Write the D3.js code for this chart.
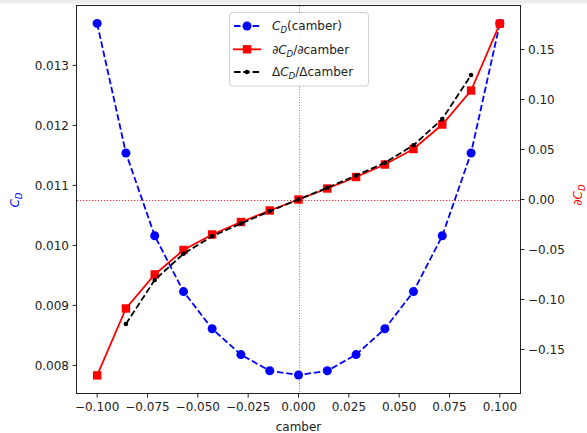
<!DOCTYPE html>
<html>
<head>
<meta charset="utf-8">
<script src="https://d3js.org/d3.v7.min.js"></script>
<style>
  body { margin: 0; padding: 0; background: #fff; }
  svg { display: block; font-family: "DejaVu Sans", sans-serif; }
</style>
</head>
<body>
<svg id="chart" width="587" height="433"></svg>
<script>
// camber stations
var camber = [-0.1, -0.0857, -0.0714, -0.0571, -0.0429, -0.0286, -0.0143, 0,
              0.0143, 0.0286, 0.0429, 0.0571, 0.0714, 0.0857, 0.1];
// drag coefficient
var cd = [0.01370, 0.01154, 0.01016, 0.00923, 0.00861, 0.00818, 0.00791, 0.00784,
          0.00791, 0.00818, 0.00861, 0.00923, 0.01016, 0.01154, 0.01370];
// analytic derivative
var dcd = [-0.176, -0.109, -0.075, -0.0505, -0.035, -0.0225, -0.011, 0,
           0.011, 0.0225, 0.035, 0.0505, 0.075, 0.109, 0.176];
// finite difference (interior stations only)
var camberFd = [-0.0857, -0.0714, -0.0571, -0.0429, -0.0286, -0.0143, 0,
                0.0143, 0.0286, 0.0429, 0.0571, 0.0714, 0.0857];
var fd = [-0.1245, -0.0805, -0.0543, -0.0368, -0.0240, -0.0118, 0,
          0.0118, 0.0240, 0.0368, 0.0543, 0.0805, 0.1245];

var xTicks = [-0.1, -0.075, -0.05, -0.025, 0, 0.025, 0.05, 0.075, 0.1];
var yLeftTicks = [0.008, 0.009, 0.010, 0.011, 0.012, 0.013];
var yRightTicks = [-0.15, -0.10, -0.05, 0, 0.05, 0.10, 0.15];

var L = 77, R = 520, T = 6, B = 393;
var fs = 12;

var svg = d3.select("#chart");
svg.append("rect").attr("x", 0).attr("y", 0).attr("width", 587).attr("height", 3.5).attr("fill", "#ececec");

var x = d3.scaleLinear().domain([-0.11, 0.11]).range([L, R]);
var yL = d3.scaleLinear().domain([0.00754, 0.01399]).range([B, T]);
var yR = d3.scaleLinear().domain([-0.1936, 0.1936]).range([B, T]);

var minus = function(s) { return s.replace("-", "\u2212"); };
var crisp = function(v) { return Math.round(v) + 0.5; };

// reference lines
svg.append("line").attr("x1", crisp(x(0))).attr("x2", crisp(x(0))).attr("y1", T).attr("y2", B)
  .attr("stroke", "#808080").attr("stroke-width", 1).attr("stroke-dasharray", "1,1.6");
svg.append("line").attr("x1", L).attr("x2", R).attr("y1", crisp(yR(0))).attr("y2", crisp(yR(0)))
  .attr("stroke", "#ff3030").attr("stroke-width", 1.1).attr("stroke-dasharray", "1.2,1.8");

var plot = svg.append("g");

// C_D on left axis
var lineL = d3.line().x(function(d, i) { return x(camber[i]); }).y(function(d) { return yL(d); });
plot.append("path").datum(cd).attr("d", lineL).attr("fill", "none")
  .attr("stroke", "blue").attr("stroke-width", 1.8).attr("stroke-dasharray", "6.5,2.8");
plot.selectAll(".cd").data(cd).enter().append("circle")
  .attr("cx", function(d, i) { return x(camber[i]); })
  .attr("cy", function(d) { return yL(d); })
  .attr("r", 4.5).attr("fill", "blue");

// derivative on right axis
var lineR = d3.line().x(function(d, i) { return x(camber[i]); }).y(function(d) { return yR(d); });
plot.append("path").datum(dcd).attr("d", lineR).attr("fill", "none")
  .attr("stroke", "red").attr("stroke-width", 1.8);
plot.selectAll(".dcd").data(dcd).enter().append("rect")
  .attr("x", function(d, i) { return x(camber[i]) - 4.2; })
  .attr("y", function(d) { return yR(d) - 4.2; })
  .attr("width", 8.4).attr("height", 8.4).attr("fill", "red");

var lineF = d3.line().x(function(d, i) { return x(camberFd[i]); }).y(function(d) { return yR(d); });
plot.append("path").datum(fd).attr("d", lineF).attr("fill", "none")
  .attr("stroke", "black").attr("stroke-width", 1.8).attr("stroke-dasharray", "6.5,2.8");
plot.selectAll(".fd").data(fd).enter().append("circle")
  .attr("cx", function(d, i) { return x(camberFd[i]); })
  .attr("cy", function(d) { return yR(d); })
  .attr("r", 2.3).attr("fill", "black");

// frame
svg.append("rect").attr("x", L - 0.5).attr("y", T - 0.5).attr("width", R - L + 1).attr("height", B - T + 1)
  .attr("fill", "none").attr("stroke", "#222").attr("stroke-width", 1);

// x ticks
var gx = svg.append("g");
xTicks.forEach(function(t) {
  gx.append("line").attr("x1", x(t)).attr("x2", x(t)).attr("y1", B).attr("y2", B + 4.5)
    .attr("stroke", "#222");
  gx.append("text").attr("x", x(t)).attr("y", B + 18).attr("text-anchor", "middle")
    .attr("font-size", fs).attr("fill", "#222").text(minus(d3.format(".3f")(t)));
});
svg.append("text").attr("x", (L + R) / 2).attr("y", 431).attr("text-anchor", "middle")
  .attr("font-size", fs).attr("fill", "#222").text("camber");

// left ticks
yLeftTicks.forEach(function(t) {
  svg.append("line").attr("x1", L - 4.5).attr("x2", L).attr("y1", yL(t)).attr("y2", yL(t)).attr("stroke", "#222");
  svg.append("text").attr("x", L - 8).attr("y", yL(t)).attr("dy", "0.36em").attr("text-anchor", "end")
    .attr("font-size", fs).attr("fill", "#222").text(d3.format(".3f")(t));
});
// right ticks
yRightTicks.forEach(function(t) {
  svg.append("line").attr("x1", R).attr("x2", R + 4.5).attr("y1", yR(t)).attr("y2", yR(t)).attr("stroke", "#222");
  svg.append("text").attr("x", R + 8).attr("y", yR(t)).attr("dy", "0.36em").attr("text-anchor", "start")
    .attr("font-size", fs).attr("fill", "#222").text(minus(d3.format(".2f")(t)));
});

// axis labels with math-style subscripts
function mathLabel(g, parts) {
  parts.forEach(function(p) {
    var ts = g.append("tspan").text(p.t);
    if (p.i) ts.attr("font-style", "italic");
    if (p.sub) ts.attr("font-size", fs * 0.72).attr("dy", 3);
    if (p.up) ts.attr("dy", -3);
  });
}
var ylab = svg.append("text").attr("transform", "translate(19,200) rotate(-90)")
  .attr("text-anchor", "middle").attr("font-size", fs).attr("fill", "blue");
mathLabel(ylab, [{t: "C", i: true}, {t: "D", i: true, sub: true}]);
var yrab = svg.append("text").attr("transform", "translate(582,195) rotate(-90)")
  .attr("text-anchor", "middle").attr("font-size", fs).attr("fill", "red");
mathLabel(yrab, [{t: "\u2202C", i: true}, {t: "D", i: true, sub: true}]);

// legend
var lg = svg.append("g");
lg.append("rect").attr("x", 229.5).attr("y", 12.5).attr("width", 139).attr("height", 73.5)
  .attr("rx", 3).attr("fill", "white").attr("fill-opacity", 0.85).attr("stroke", "#d0d0d0");
var rows = [
  {y: 26, color: "blue", dash: "6.5,2.8", mark: "circle", parts: [{t: "C", i: true}, {t: "D", i: true, sub: true}, {t: "(camber)", up: true}]},
  {y: 49.3, color: "red", dash: null, mark: "square", parts: [{t: "\u2202C", i: true}, {t: "D", i: true, sub: true}, {t: "/\u2202camber", up: true}]},
  {y: 72, color: "black", dash: "6.5,2.8", mark: "dot", parts: [{t: "\u0394"}, {t: "C", i: true}, {t: "D", i: true, sub: true}, {t: "/\u0394camber", up: true}]}
];
rows.forEach(function(r) {
  var ln = lg.append("line").attr("x1", 233).attr("x2", 261).attr("y1", r.y).attr("y2", r.y)
    .attr("stroke", r.color).attr("stroke-width", 1.8);
  if (r.dash) ln.attr("stroke-dasharray", r.dash).attr("stroke-dashoffset", -1);
  if (r.mark === "circle") lg.append("circle").attr("cx", 247).attr("cy", r.y).attr("r", 4.5).attr("fill", r.color);
  if (r.mark === "square") lg.append("rect").attr("x", 247 - 4.2).attr("y", r.y - 4.2).attr("width", 8.4).attr("height", 8.4).attr("fill", r.color);
  if (r.mark === "dot") lg.append("circle").attr("cx", 247).attr("cy", r.y).attr("r", 2.3).attr("fill", r.color);
  var tx = lg.append("text").attr("x", 272).attr("y", r.y + 4.3).attr("font-size", fs).attr("fill", "#222");
  mathLabel(tx, r.parts);
});
</script>
</body>
</html>
